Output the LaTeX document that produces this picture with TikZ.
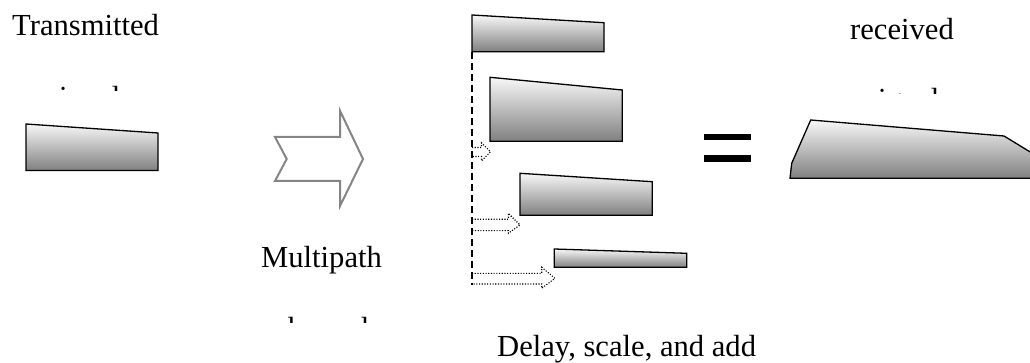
\documentclass[tikz,border=0pt]{standalone}
\usepackage{fontspec}
\setmainfont{Liberation Serif}
\begin{document}
\begin{tikzpicture}[x=1pt,y=-1pt,
  label/.style={anchor=base west,inner sep=0pt,font=\fontsize{30.6}{36}\selectfont},
  pulse/.style={draw=black,line width=1.3pt,top color=white!97!black,bottom color=black!50,line join=miter},
  bigarrow/.style={draw=black!48,line width=2pt,fill=white,line join=miter},
  shift arrow/.style={draw=black,line width=1.1pt,dash pattern=on 1.1pt off 1.6pt},
  delay line/.style={draw=black,line width=1.5pt,dash pattern=on 7pt off 4pt}]
\useasboundingbox (0,0) rectangle (1030,363);
\clip (0,0) rectangle (1030,363);

% ---- transmitted signal ----
\node[label] (tx) at (12,36) {Transmitted};
\begin{scope}
  \clip (0,0) rectangle (200,90.5);
  \node[label] (txsig) at (47,107.8) {signal};
\end{scope}
\draw[pulse] (26,124) -- (158,133) -- (158,170.5) -- (26,170.5) -- cycle;

% ---- multipath channel arrow ----
\draw[bigarrow] (275,137) -- (340,137) -- (340,110.7) -- (363,159)
  -- (340,206) -- (340,181) -- (275,181) -- (286.7,159) -- cycle;
\node[label] (mp) at (261,268) {Multipath};
\begin{scope}
  \clip (200,300) rectangle (450,322.3);
  \node[label] (ch) at (274,338.5) {channel};
\end{scope}

% ---- delayed and scaled copies ----
\draw[delay line] (472,52) -- (472,285);
\draw[pulse] (472,15) -- (604,22.7) -- (604,51.7) -- (472,51.7) -- cycle;
\draw[pulse] (490,77.3) -- (622.3,90) -- (622.3,141.3) -- (490,141.3) -- cycle;
\draw[pulse] (520,173.3) -- (652.3,181.7) -- (652.3,215.3) -- (520,215.3) -- cycle;
\draw[pulse] (554.3,249) -- (686.7,253.3) -- (686.7,267.3) -- (554.3,267.3) -- cycle;

\draw[shift arrow] (472,147.5) -- (481.5,147.5) -- (481.5,143) -- (490.5,151.8)
  -- (481.5,160.8) -- (481.5,156.5) -- (472,156.5);
\draw[shift arrow] (472,219.3) -- (508.3,219.3) -- (508.3,213.3) -- (520,225)
  -- (508.3,233.3) -- (508.3,230.7) -- (472,230.7);
\draw[shift arrow] (472,273.3) -- (541.7,273.3) -- (541.7,267.3) -- (555,278.3)
  -- (541.7,288.3) -- (541.7,284) -- (472,284);

\node[label] (dsa) at (497,356.7) {Delay, scale, and add};

% ---- equals sign ----
\fill (704,134.3) rectangle (750.7,140);
\fill (704,155) rectangle (750.7,161.7);

% ---- received signal ----
\node[label] (rx) at (850,39.3) {received};
\begin{scope}
  \clip (800,0) rectangle (1030,93.8);
  \node[label] (rxsig) at (866,109.5) {signal};
\end{scope}
\draw[pulse] (790,178.3) -- (791.7,163.3) -- (810.7,120) -- (1004,136)
  -- (1045,161) -- (1045,178.3) -- cycle;
\end{tikzpicture}
\end{document}
